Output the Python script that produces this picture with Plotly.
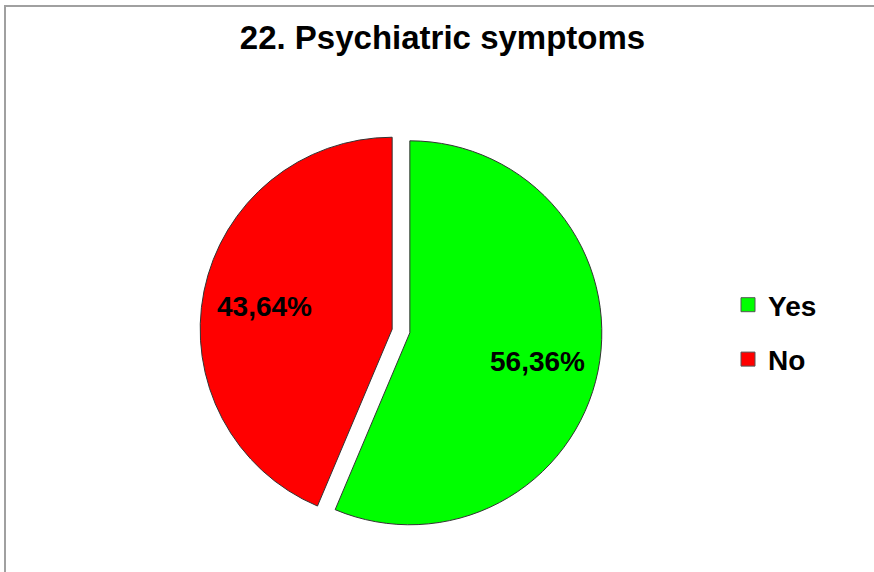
import math
import plotly.graph_objects as go

labels = ["Yes", "No"]
values = [56.36, 43.64]
text_labels = ["56,36%", "43,64%"]
colors = ["#00FF00", "#FF0000"]

W, H = 874, 572
cx, cy, half = 401, 331, 201
pull = 0.047
FONT = "Liberation Sans, Arial, sans-serif"

fig = go.Figure()
fig.add_trace(go.Pie(
    labels=labels,
    values=values,
    textinfo="none",
    marker=dict(colors=colors, line=dict(color="#333333", width=1)),
    pull=[pull, pull],
    sort=False,
    direction="clockwise",
    rotation=0,
    showlegend=False,
    domain=dict(x=[(cx - half) / W, (cx + half) / W],
                y=[(H - cy - half) / H, (H - cy + half) / H]),
    hoverinfo="label+percent",
))

# legend entries
for lab, col in zip(labels, colors):
    fig.add_trace(go.Scatter(
        x=[None], y=[None], mode="markers", name=lab, legendgroup=lab,
        marker=dict(symbol="square", size=14, color=col, line=dict(color="#555555", width=1)),
        hoverinfo="skip",
    ))

# slice labels placed along each slice's bisector
R = half / (1 + pull)
total = sum(values)
annotations = []
start = 0.0
for v, t in zip(values, text_labels):
    frac = v / total
    mid = (start + frac / 2) * 2 * math.pi
    start += frac
    rr = (pull + 0.68) * R
    px = cx + rr * math.sin(mid)
    py = cy - rr * math.cos(mid) + 3
    annotations.append(dict(
        x=px / W, y=1 - py / H, xref="paper", yref="paper", text="<b>" + t + "</b>",
        showarrow=False, xanchor="center", yanchor="middle",
        font=dict(family=FONT, size=28, color="black"),
    ))

fig.update_layout(
    width=W, height=H,
    margin=dict(l=0, r=0, t=0, b=0),
    paper_bgcolor="white",
    plot_bgcolor="white",
    xaxis=dict(visible=False),
    yaxis=dict(visible=False),
    title=dict(text="<b>22. Psychiatric symptoms</b>", x=442.5 / W, xanchor="center",
               y=1 - 37 / H, yanchor="middle",
               font=dict(family=FONT, size=33, color="black")),
    showlegend=True,
    legend=dict(x=728 / W, y=1 - 280 / H, xanchor="left", yanchor="top",
                tracegroupgap=15,
                font=dict(family=FONT, size=28, color="black", weight="bold"),
                bgcolor="rgba(0,0,0,0)"),
    annotations=annotations,
    shapes=[dict(type="rect", xref="paper", yref="paper",
                 x0=5 / W, x1=1.02, y0=-0.02, y1=1 - 6 / H,
                 line=dict(color="#a0a0a0", width=2), fillcolor="rgba(0,0,0,0)")],
)

fig.write_html("out.html", config={"displayModeBar": False},
               post_script="document.body.style.margin='0';")
